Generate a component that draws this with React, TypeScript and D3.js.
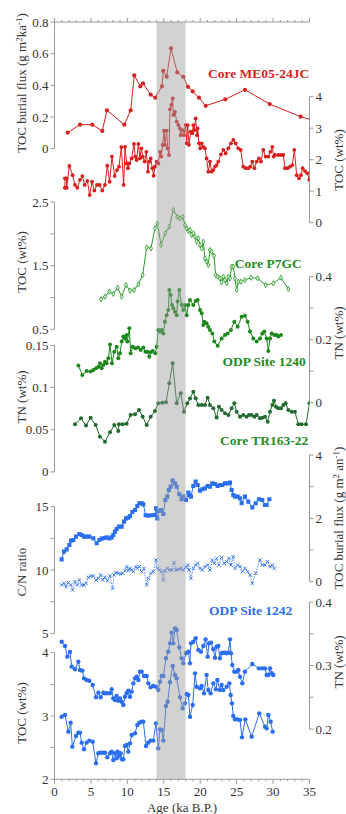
import React from 'react';
import * as d3 from 'd3';

// ---------------- data (age ka, value) ----------------
const me05Flux: [number, number][] = [[1.81,0.101],[3.5,0.152],[5.19,0.152],[6.56,0.112],[7.2,0.242],[9.58,0.152],[10.46,0.242],[10.95,0.463],[11.78,0.394],[12.15,0.413],[13.2,0.341],[13.83,0.322],[14.75,0.394],[14.93,0.491],[15.4,0.455],[15.99,0.634],[16.85,0.482],[17.68,0.453],[18.32,0.391],[18.97,0.362],[19.83,0.322],[20.75,0.271],[23.44,0.312],[26.15,0.372],[29.54,0.282],[33.79,0.202],[35.6,0.178]];

const me05Toc: [number, number][] = [[1.42,1.11],[1.44,1.41],[1.65,1.41],[1.67,1.11],[2.04,1.8],[2.49,1.51],[2.81,1.2],[3.13,1.11],[3.5,1.36],[3.82,1.48],[4.14,1.2],[4.51,1.33],[4.83,0.88],[5.15,1.3],[5.47,1.02],[5.83,1.2],[6.2,1.2],[6.56,1.02],[6.93,1.2],[7.25,1.81],[7.57,1.3],[7.89,2.1],[8.26,1.48],[8.58,1.67],[8.85,1.78],[9.17,2.4],[9.49,1.2],[9.68,2.41],[9.9,1.88],[10.09,1.73],[10.27,1.88],[10.59,2.04],[10.91,2.5],[11.09,2.1],[11.28,1.99],[11.51,2.5],[11.73,2.04],[11.92,2.36],[12.1,2.1],[12.37,1.94],[12.6,2.25],[12.83,1.62],[13.01,1.94],[13.2,2.04],[13.43,1.73],[13.61,1.49],[13.79,1.78],[14.02,1.94],[14.25,1.88],[14.48,2.25],[14.66,2.1],[14.84,2.47],[15.03,2.92],[15.16,2.47],[15.39,2.92],[15.53,2.36],[15.71,2.15],[15.85,3.6],[16.03,3.74],[16.22,3.95],[16.31,3.42],[16.54,3.52],[16.77,3.21],[17.0,3.1],[17.22,2.99],[17.32,2.78],[17.59,2.94],[17.77,2.78],[18.0,3.1],[18.14,2.52],[18.28,3.1],[18.46,2.47],[18.69,2.89],[18.92,2.84],[19.05,3.1],[19.19,2.94],[19.37,3.31],[19.56,2.78],[19.65,2.99],[19.83,2.52],[20.01,2.36],[20.2,2.52],[20.43,2.41],[20.65,2.36],[20.88,2.04],[21.11,1.62],[21.34,1.94],[21.57,1.62],[21.8,1.67],[22.03,1.78],[22.25,1.83],[22.48,1.94],[22.85,2.17],[23.17,2.31],[23.49,2.2],[23.86,2.36],[24.22,2.52],[24.54,2.63],[24.86,2.52],[25.23,2.36],[25.55,2.31],[25.91,1.78],[26.24,1.73],[26.6,1.73],[26.88,1.78],[27.15,1.94],[27.43,1.73],[27.75,1.94],[28.06,2.04],[28.34,1.94],[28.66,2.31],[28.98,2.1],[29.35,2.1],[29.62,2.25],[29.9,2.41],[30.08,2.1],[30.26,2.15],[30.72,2.15],[31.09,2.15],[31.41,2.15],[31.63,1.73],[32.0,1.73],[32.32,1.78],[32.64,1.83],[32.92,2.31],[33.24,1.51],[33.56,1.41],[33.83,1.51],[34.06,1.73],[34.38,1.64],[34.7,1.57],[34.97,1.36]];

const p7gcToc: [number, number][] = [[6.38,0.971],[6.93,1.013],[7.52,1.091],[8.07,1.055],[8.67,1.154],[9.22,1.013],[9.81,1.196],[10.36,1.107],[10.91,1.117],[11.51,1.207],[12.1,1.353],[12.65,1.788],[13.24,1.772],[13.79,2.086],[14.11,2.164],[14.62,1.824],[15.21,2.008],[15.76,2.112],[16.31,2.374],[16.86,2.269],[17.22,2.243],[17.59,2.269],[17.91,2.138],[18.14,2.086],[18.37,2.044],[18.59,2.06],[18.82,1.981],[19.05,2.008],[19.28,1.955],[19.51,1.877],[19.74,1.929],[19.97,1.824],[20.2,1.772],[20.43,1.877],[20.65,1.615],[20.88,1.563],[21.11,1.51],[21.34,1.746],[21.57,1.72],[21.89,1.657],[22.12,1.353],[22.39,1.327],[22.71,1.301],[22.94,1.238],[23.17,1.327],[23.4,1.274],[23.63,1.222],[23.86,1.327],[24.09,1.301],[24.31,1.484],[24.54,1.484],[24.77,1.301],[25.0,1.118],[25.23,1.248],[25.59,1.248],[26.14,1.274],[26.97,1.311],[27.88,1.301],[28.98,1.196],[30.03,1.222],[31.09,1.311],[32.09,1.133]];

const odp1240Tn: [number, number][] = [[3.27,0.118],[3.82,0.088],[4.41,0.101],[4.96,0.099],[5.33,0.104],[5.7,0.109],[6.02,0.114],[6.24,0.125],[6.47,0.109],[6.7,0.12],[6.93,0.13],[7.16,0.125],[7.39,0.141],[7.62,0.185],[7.89,0.125],[8.21,0.162],[8.53,0.178],[8.76,0.141],[8.99,0.157],[9.22,0.194],[9.45,0.21],[9.68,0.204],[9.9,0.215],[10.0,0.194],[10.27,0.236],[10.45,0.157],[10.73,0.178],[11.09,0.173],[11.46,0.175],[11.83,0.167],[12.19,0.175],[12.47,0.162],[12.74,0.162],[13.01,0.146],[13.2,0.16],[13.47,0.164],[13.84,0.157],[14.02,0.178],[14.25,0.231],[14.48,0.226],[14.71,0.231],[14.94,0.22],[15.16,0.257],[15.39,0.278],[15.62,0.294],[15.76,0.358],[15.94,0.342],[16.13,0.31],[16.31,0.3],[16.54,0.289],[16.77,0.278],[16.9,0.321],[17.13,0.358],[17.45,0.31],[17.68,0.294],[17.91,0.31],[18.14,0.278],[18.37,0.31],[18.59,0.326],[19.05,0.31],[19.37,0.323],[19.65,0.326],[19.97,0.294],[20.2,0.284],[20.43,0.247],[20.56,0.257],[20.88,0.252],[21.11,0.241],[21.34,0.231],[21.66,0.22],[21.94,0.194],[22.39,0.181],[22.94,0.204],[23.4,0.215],[23.77,0.22],[24.22,0.231],[24.68,0.257],[25.14,0.241],[25.69,0.273],[26.14,0.276],[26.51,0.257],[26.83,0.226],[27.29,0.204],[27.75,0.194],[28.2,0.204],[28.52,0.22],[28.8,0.226],[29.12,0.204],[29.35,0.164],[29.58,0.204],[29.81,0.22],[30.17,0.215],[30.49,0.215],[30.72,0.21],[31.09,0.215]];

const tr16322Tn: [number, number][] = [[2.81,0.0564],[3.64,0.0636],[4.32,0.0549],[4.96,0.0643],[5.65,0.0556],[6.24,0.0418],[6.93,0.0359],[7.62,0.0469],[8.21,0.0556],[8.76,0.0485],[8.85,0.0564],[9.36,0.0564],[9.9,0.0572],[10.45,0.0675],[11.05,0.0683],[11.6,0.0734],[12.1,0.0655],[12.65,0.0556],[13.2,0.0655],[13.79,0.0723],[14.25,0.0813],[14.8,0.082],[15.3,0.0825],[15.76,0.1051],[16.22,0.1288],[16.77,0.0813],[17.32,0.0932],[17.77,0.0714],[18.23,0.0813],[18.6,0.0872],[19.05,0.0952],[19.37,0.0873],[19.74,0.0794],[20.2,0.0794],[20.65,0.0794],[21.02,0.0881],[21.34,0.0794],[21.8,0.0754],[22.25,0.0644],[22.57,0.0774],[22.94,0.0734],[23.4,0.0695],[23.86,0.0675],[24.31,0.0754],[24.68,0.0814],[25.0,0.0715],[25.46,0.0655],[25.91,0.0675],[26.37,0.0655],[26.69,0.0675],[27.06,0.0675],[27.43,0.0655],[27.75,0.0675],[28.2,0.0636],[28.52,0.0643],[28.89,0.0655],[29.25,0.0596],[29.58,0.0715],[29.9,0.0794],[30.12,0.0845],[30.4,0.0774],[30.72,0.0754],[31.09,0.0754],[31.41,0.0794],[31.72,0.0814],[32.09,0.0734],[32.55,0.0715],[33.0,0.0715],[33.46,0.0564],[33.92,0.0564],[34.52,0.0564],[35.0,0.0814]];

const odp1242Flux: [number, number][] = [[0.98,0.706],[1.3,0.948],[1.67,1.022],[2.04,1.159],[2.26,1.296],[2.58,1.317],[2.95,1.422],[3.41,1.506],[3.73,1.475],[4.05,1.422],[4.41,1.422],[4.78,1.422],[5.33,1.369],[5.79,1.212],[6.15,1.317],[6.47,1.359],[6.84,1.38],[7.16,1.401],[7.53,1.369],[7.85,1.401],[8.07,1.475],[8.3,1.58],[8.53,1.664],[8.85,1.738],[9.22,1.738],[9.54,1.896],[9.81,2.001],[10.13,2.022],[10.36,2.075],[10.68,2.201],[11.05,2.264],[11.37,2.391],[11.64,2.475],[11.96,2.475],[12.19,2.443],[12.51,2.096],[12.88,2.085],[13.33,2.096],[13.79,2.106],[13.93,2.317],[14.11,2.001],[14.34,2.233],[14.62,2.264],[14.94,2.138],[15.21,2.58],[15.48,2.685],[15.71,2.896],[15.94,3.001],[16.22,3.19],[16.54,3.106],[16.77,3.001],[17.13,2.759],[17.45,2.601],[17.68,2.685],[18.05,2.58],[18.37,2.812],[18.46,2.738],[18.73,2.685],[19.05,3.022],[19.37,3.159],[19.65,3.054],[19.97,2.875],[20.29,2.917],[20.65,2.948],[21.02,3.022],[21.34,3.001],[21.66,3.106],[22.03,3.085],[22.39,3.022],[22.71,3.054],[23.03,3.054],[23.4,3.106],[23.77,3.106],[24.09,3.127],[24.31,2.896],[24.54,2.738],[24.77,2.685],[25.14,2.685],[25.46,2.632],[25.69,2.475],[26.14,2.685],[26.6,2.527],[27.15,2.348],[27.61,2.475],[28.06,2.601],[28.52,2.58],[28.89,2.422],[29.12,2.422],[29.49,2.601]];

const odp1242CN: [number, number][] = [[0.98,8.82],[1.3,8.95],[1.58,8.68],[1.9,9.0],[2.22,8.82],[2.49,8.42],[2.81,9.08],[3.13,8.82],[3.41,9.21],[3.73,8.82],[4.05,8.82],[4.32,8.95],[4.64,9.42],[4.96,9.53],[5.33,9.53],[5.7,9.21],[6.02,9.34],[6.34,9.61],[6.61,9.21],[6.93,9.42],[7.25,9.16],[7.62,9.53],[7.98,8.55],[8.17,9.61],[8.44,9.79],[8.76,9.74],[9.08,9.68],[9.36,9.74],[9.68,9.95],[9.9,10.26],[10.13,9.95],[10.36,10.13],[10.59,10.0],[10.82,9.87],[11.18,10.26],[11.37,10.13],[11.64,10.26],[11.96,9.87],[12.28,10.13],[12.65,8.82],[12.88,9.34],[13.2,9.74],[13.56,9.87],[13.93,10.79],[14.11,10.13],[14.39,10.0],[14.71,9.87],[14.94,9.21],[15.16,9.95],[15.48,10.13],[15.76,10.0],[16.08,10.0],[16.4,10.58],[16.67,10.0],[16.99,10.05],[17.32,10.13],[17.68,10.0],[18.05,10.21],[18.28,10.39],[18.46,10.0],[18.73,9.34],[19.05,10.13],[19.37,10.39],[19.65,10.53],[19.97,10.13],[20.29,10.0],[20.65,10.26],[21.02,10.39],[21.34,10.0],[21.66,10.79],[21.94,10.53],[22.25,10.92],[22.57,10.39],[22.94,11.0],[23.31,10.53],[23.63,10.66],[23.95,10.92],[24.22,10.39],[24.54,11.05],[24.77,10.13],[25.14,10.39],[25.46,10.26],[25.78,9.87],[26.14,10.13],[26.51,9.87],[26.83,9.61],[27.15,8.95],[27.61,9.74],[28.2,10.79],[28.52,10.39],[28.89,10.39],[29.25,10.66],[29.58,10.26],[29.9,10.39],[30.17,10.13]];

const odp1242Tn: [number, number][] = [[0.98,0.3375],[1.44,0.3307],[1.76,0.3139],[2.13,0.3213],[2.36,0.2982],[2.81,0.294],[3.27,0.306],[3.5,0.2929],[3.82,0.2919],[4.05,0.2798],[4.41,0.2772],[4.78,0.2761],[5.24,0.2693],[5.7,0.2499],[6.02,0.2572],[6.34,0.2499],[6.7,0.2572],[6.93,0.2562],[7.25,0.2562],[7.62,0.2562],[7.85,0.2625],[8.07,0.2483],[8.3,0.2457],[8.53,0.252],[8.76,0.2446],[8.99,0.2483],[9.22,0.243],[9.45,0.2378],[9.68,0.2509],[9.9,0.2562],[10.13,0.2604],[10.36,0.2509],[10.59,0.2588],[10.82,0.2719],[11.05,0.2798],[11.28,0.2824],[11.51,0.2772],[11.73,0.2903],[11.96,0.2903],[12.28,0.2835],[12.65,0.2835],[12.88,0.2719],[13.2,0.2656],[13.56,0.2677],[13.93,0.2667],[14.25,0.2614],[14.48,0.2745],[14.71,0.2835],[14.94,0.2835],[15.3,0.3113],[15.62,0.3218],[15.85,0.3349],[16.08,0.3517],[16.31,0.3349],[16.54,0.3585],[16.77,0.3559],[17.13,0.3286],[17.45,0.3113],[17.68,0.3034],[18.05,0.3192],[18.37,0.3218],[18.59,0.3034],[18.73,0.3349],[19.05,0.3375],[19.37,0.3428],[19.74,0.3244],[20.1,0.3218],[20.43,0.3307],[20.74,0.3412],[21.02,0.3139],[21.2,0.3349],[21.48,0.336],[21.8,0.3255],[22.03,0.3123],[22.25,0.3297],[22.48,0.3307],[22.71,0.3113],[22.94,0.3192],[23.17,0.3202],[23.4,0.3202],[23.63,0.3192],[23.86,0.3202],[24.09,0.3412],[24.22,0.3192],[24.4,0.3008],[24.68,0.2903],[25.0,0.2903],[25.23,0.2929],[25.46,0.2824],[25.78,0.2719],[26.14,0.2903],[27.15,0.3024],[28.06,0.2955],[28.52,0.2955],[28.89,0.2955],[29.12,0.285],[29.35,0.285],[29.58,0.2955],[29.81,0.2877],[30.03,0.285]];

const odp1242Toc: [number, number][] = [[0.98,2.989],[1.44,3.016],[1.9,2.753],[2.22,2.895],[2.45,2.516],[2.95,2.684],[3.27,2.737],[3.5,2.737],[3.73,2.579],[4.05,2.474],[4.41,2.579],[4.78,2.611],[5.24,2.595],[5.7,2.253],[6.02,2.411],[6.34,2.421],[6.7,2.421],[6.93,2.421],[7.25,2.347],[7.62,2.411],[7.85,2.437],[8.07,2.305],[8.3,2.411],[8.53,2.332],[8.67,2.437],[8.85,2.368],[9.08,2.411],[9.26,2.316],[9.45,2.316],[9.68,2.526],[9.9,2.542],[10.13,2.437],[10.36,2.568],[10.59,2.7],[11.05,2.726],[11.37,2.858],[11.64,2.895],[11.96,2.911],[12.19,2.911],[12.56,2.526],[12.88,2.579],[13.2,2.611],[13.56,2.611],[13.93,2.884],[14.25,2.489],[14.48,2.789],[14.71,2.779],[14.94,2.611],[15.3,3.158],[15.53,3.226],[15.85,3.532],[16.22,3.789],[16.54,3.647],[16.77,3.595],[17.23,3.295],[17.59,3.121],[17.91,3.2],[18.14,3.347],[18.37,3.332],[18.6,2.989],[18.97,3.174],[19.29,3.674],[19.52,3.463],[19.97,3.437],[20.2,3.474],[20.52,3.358],[20.88,3.647],[21.11,3.411],[21.43,3.358],[21.8,3.516],[22.16,3.421],[22.35,3.568],[22.71,3.411],[22.94,3.489],[23.17,3.411],[23.63,3.463],[24.0,3.516],[24.18,3.332],[24.36,3.2],[24.54,3.0],[24.77,2.947],[25.09,2.947],[25.46,2.937],[25.73,2.663],[26.19,2.947],[27.06,2.674],[28.11,3.042],[28.89,2.832],[29.12,2.805],[29.35,3.016],[29.67,2.911],[29.94,2.753]];

// tick values
const ageTicksMajor = [0, 5, 10, 15, 20, 25, 30, 35];
const ageTicksMinor = d3.range(0, 36, 1);
const fluxTicks1 = [0, 0.2, 0.4, 0.6, 0.8];
const tocTicks1 = [0, 1, 2, 3, 4];
const tocTicks2 = [0.5, 1, 1.5, 2, 2.5];
const tocLabels2 = [0.5, 1.5, 2.5];
const tnTicks2 = [0, 0.1, 0.2, 0.3, 0.4];
const tnLabels2 = [0, 0.2, 0.4];
const tnTicks3 = [0, 0.05, 0.1, 0.15];
const cnTicks = [5, 7.5, 10, 12.5, 15];
const cnLabels = [5, 10, 15];
const fluxTicks4 = [0, 1, 2, 3, 4];
const fluxLabels4 = [0, 2, 4];
const tnTicks5 = [0.2, 0.25, 0.3, 0.35, 0.4];
const tnLabels5 = [0.2, 0.3, 0.4];
const tocTicks5 = [2, 2.5, 3, 3.5, 4];
const tocLabels5 = [2, 3, 4];
const band = [14, 18];

// ---------------- layout ----------------
const W = 346, H = 814;
const X0 = 54.5, X1 = 309.5;
const TOP = 22, BOT = 779.3;
const AX = '#9a9a9a';
const TXT = '#333';
const FONT = "'Liberation Serif', 'DejaVu Serif', serif";

const RED = '#d81e1e';
const G_P7 = '#2a9a2a';
const G_1240 = '#1c881c';
const G_TR = '#226b30';
const G_LBL = '#1f8c1f';
const BLUE = '#2b6ff0';

const x = d3.scaleLinear([0, 35], [X0, X1]);
const yFlux1 = d3.scaleLinear([0, 0.8], [148.7, 22]);
const yToc1 = d3.scaleLinear([0, 4], [222.7, 96.7]);
const yToc2 = d3.scaleLinear([0.5, 2.5], [329.3, 202]);
const yTn2 = d3.scaleLinear([0, 0.4], [402.7, 276.7]);
const yTn3 = d3.scaleLinear([0, 0.15], [471.9, 345.45]);
const yCN = d3.scaleLinear([5, 15], [633.35, 506.65]);
const yFlux4 = d3.scaleLinear([0, 4], [581.7, 455]);
const yTn5 = d3.scaleLinear([0.2, 0.4], [729, 602]);
const yToc5 = d3.scaleLinear([2, 4], [779.3, 652.7]);

type Pt = [number, number];

function Series({ data, y, color, marker, r = 2, width = 1, dash }: { data: Pt[]; y: d3.ScaleLinear<number, number>; color: string; marker: string; r?: number; width?: number; dash?: string }) {
  const line = d3.line<Pt>().x(d => x(d[0])).y(d => y(d[1]));
  const sq = d3.symbol(d3.symbolSquare, 17)();
  const xs = d3.symbol(d3.symbolX, 9)();
  const dia = d3.symbol(d3.symbolDiamond, 8)();
  return (
    <g>
      <path d={line(data) || ''} fill="none" stroke={color} strokeWidth={width} strokeDasharray={dash} />
      {data.map((d, i) => {
        const cx = x(d[0]), cy = y(d[1]);
        if (marker === 'circle') return <circle key={i} cx={cx} cy={cy} r={r} fill={color} />;
        if (marker === 'square') return <path key={i} d={sq || ''} transform={`translate(${cx},${cy})`} fill={color} />;
        if (marker === 'x') return <path key={i} d={xs || ''} transform={`translate(${cx},${cy})`} fill="none" stroke={color} strokeWidth={0.9} />;
        return <path key={i} d={dia || ''} transform={`translate(${cx},${cy})`} fill="#d6f0d6" stroke={color} strokeWidth={0.8} />;
      })}
    </g>
  );
}

function VAxis({ side, scale, ticks, labels }: { side: 'left' | 'right'; scale: d3.ScaleLinear<number, number>; ticks: number[]; labels: number[] }) {
  const ax = side === 'left' ? X0 : X1;
  const dir = side === 'left' ? -1 : 1;
  const [a, b] = d3.extent(ticks) as [number, number];
  return (
    <g>
      <line x1={ax} x2={ax} y1={scale(a)} y2={scale(b)} stroke={AX} strokeWidth={1} />
      {ticks.map((t, i) => (
        <line key={i} x1={ax} x2={ax + dir * 4} y1={scale(t)} y2={scale(t)} stroke={AX} strokeWidth={1} />
      ))}
      {labels.map((t, i) => (
        <text key={i} x={ax + dir * 6} y={scale(t)} dy="0.35em" textAnchor={side === 'left' ? 'end' : 'start'} fontSize={13} fill={TXT} style={{ fontFamily: FONT }}>
          {String(t)}
        </text>
      ))}
    </g>
  );
}

function RotTitle({ cx, cy, children }: { cx: number; cy: number; children: React.ReactNode }) {
  return (
    <text transform={`translate(${cx},${cy}) rotate(-90)`} textAnchor="middle" dy="0.35em" fontSize={13} fill={TXT} style={{ fontFamily: FONT }}>
      {children}
    </text>
  );
}

export default function App() {
  return (
    <svg width={W} height={H} style={{ position: 'absolute', left: 0, top: 0, background: '#fff', fontFamily: FONT }}>
      <defs>
        <clipPath id="plotclip">
          <rect x={X0} y={0} width={X1 - X0} height={H} />
        </clipPath>
      </defs>

      {/* top and bottom age axes */}
      <line x1={X0} x2={X1} y1={TOP} y2={TOP} stroke={AX} />
      {ageTicksMinor.map(t => (
        <line key={'tm' + t} x1={x(t)} x2={x(t)} y1={TOP} y2={TOP - (t % 5 === 0 ? 4 : 2)} stroke={AX} />
      ))}
      <line x1={X0} x2={X1} y1={BOT} y2={BOT} stroke={AX} />
      {ageTicksMinor.map(t => (
        <line key={'bm' + t} x1={x(t)} x2={x(t)} y1={BOT} y2={BOT + (t % 5 === 0 ? 4.5 : 2)} stroke={AX} />
      ))}
      {ageTicksMajor.map(t => (
        <text key={'bl' + t} x={x(t)} y={BOT + 17} textAnchor="middle" fontSize={13} fill={TXT} style={{ fontFamily: FONT }}>{t}</text>
      ))}
      <text x={(X0 + X1) / 2} y={812} textAnchor="middle" fontSize={13} fill={TXT} style={{ fontFamily: FONT }}>Age (ka B.P.)</text>

      {/* vertical axes */}
      <VAxis side="left" scale={yFlux1} ticks={fluxTicks1} labels={fluxTicks1} />
      <VAxis side="right" scale={yToc1} ticks={tocTicks1} labels={tocTicks1} />
      <VAxis side="left" scale={yToc2} ticks={tocTicks2} labels={tocLabels2} />
      <VAxis side="right" scale={yTn2} ticks={tnTicks2} labels={tnLabels2} />
      <VAxis side="left" scale={yTn3} ticks={tnTicks3} labels={tnTicks3} />
      <VAxis side="left" scale={yCN} ticks={cnTicks} labels={cnLabels} />
      <VAxis side="right" scale={yFlux4} ticks={fluxTicks4} labels={fluxLabels4} />
      <VAxis side="right" scale={yTn5} ticks={tnTicks5} labels={tnLabels5} />
      <VAxis side="left" scale={yToc5} ticks={tocTicks5} labels={tocLabels5} />

      {/* axis titles */}
      <RotTitle cx={21.7} cy={83}>
        TOC burial flux (g m<tspan dy={-4} fontSize={9}>2</tspan><tspan dy={4}>ka</tspan><tspan dy={-4} fontSize={9}>-1</tspan><tspan dy={4}>)</tspan>
      </RotTitle>
      <RotTitle cx={338} cy={160}>TOC (wt%)</RotTitle>
      <RotTitle cx={21.7} cy={262}>TOC (wt%)</RotTitle>
      <RotTitle cx={338} cy={333}>TN (wt%)</RotTitle>
      <RotTitle cx={21.7} cy={397}>TN (wt%)</RotTitle>
      <RotTitle cx={338} cy={518}>
        TOC burial flux (g m<tspan dy={-4} fontSize={9}>2</tspan><tspan dy={4}> an</tspan><tspan dy={-4} fontSize={9}>-1</tspan><tspan dy={4}>)</tspan>
      </RotTitle>
      <RotTitle cx={21.7} cy={572}>C/N ratio</RotTitle>
      <RotTitle cx={21.7} cy={713}>TOC (wt%)</RotTitle>
      <RotTitle cx={338} cy={662}>TN (wt%)</RotTitle>

      {/* series */}
      <g clipPath="url(#plotclip)">
        <Series data={me05Flux} y={yFlux1} color={RED} marker="circle" r={2.1} />
        <Series data={me05Toc} y={yToc1} color={RED} marker="circle" r={1.9} />
        <Series data={p7gcToc} y={yToc2} color={G_P7} marker="diamond" />
        <Series data={odp1240Tn} y={yTn2} color={G_1240} marker="circle" r={2} />
        <Series data={tr16322Tn} y={yTn3} color={G_TR} marker="circle" r={2} />
        <Series data={odp1242Flux} y={yFlux4} color={BLUE} marker="square" />
        <Series data={odp1242CN} y={yCN} color={BLUE} marker="x" width={0.8} dash="1.5,1.2" />
        <Series data={odp1242Tn} y={yTn5} color={BLUE} marker="circle" r={2.2} />
        <Series data={odp1242Toc} y={yToc5} color={BLUE} marker="circle" r={2.2} />
      </g>

      {/* shaded interval */}
      <rect x={x(band[0])} y={TOP} width={x(band[1]) - x(band[0])} height={BOT - TOP} fill="#9c9c9c" opacity={0.45} />

      {/* series labels */}
      <g fontWeight="bold" fontSize={13.5} textAnchor="end" style={{ fontFamily: FONT }}>
        <text x={309.3} y={77.5} fill={RED}>Core ME05-24JC</text>
        <text x={301.7} y={268} fill={G_LBL}>Core P7GC</text>
        <text x={305.7} y={366} fill={G_LBL}>ODP Site 1240</text>
        <text x={308.3} y={445} fill={G_LBL}>Core TR163-22</text>
        <text x={292.3} y={615} fill={BLUE}>ODP Site 1242</text>
      </g>
    </svg>
  );
}
